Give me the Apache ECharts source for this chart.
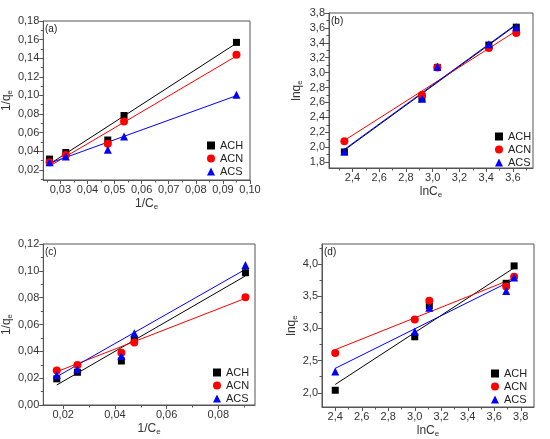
<!DOCTYPE html>
<html>
<head>
<meta charset="utf-8">
<script src="https://cdn.jsdelivr.net/npm/echarts@6/dist/echarts.min.js"></script>
<style>
  html, body { margin: 0; background: #fff; }
  #main { width: 550px; height: 439px; }
</style>
</head>
<body>
<div id="main"></div>
<script>
// (a) 1/qe vs 1/Ce
var achA = [[0.026, 0.0315], [0.032, 0.0386], [0.0475, 0.052], [0.0535, 0.0784], [0.095, 0.157]];
var acnA = [[0.026, 0.028], [0.032, 0.036], [0.0475, 0.048], [0.0535, 0.072], [0.095, 0.1437]];
var acsA = [[0.026, 0.028], [0.032, 0.0343], [0.0475, 0.0415], [0.0535, 0.0558], [0.095, 0.1006]];
var achFitA = [[0.0262, 0.0265], [0.0947, 0.1555]];
var acnFitA = [[0.0262, 0.0243], [0.0947, 0.1418]];
var acsFitA = [[0.0262, 0.0272], [0.0947, 0.0994]];

// (b) lnqe vs lnCe
var achB = [[2.34, 1.935], [2.92, 2.65], [3.035, 3.07], [3.42, 3.37], [3.625, 3.61]];
var acnB = [[2.34, 2.08], [2.92, 2.70], [3.035, 3.07], [3.42, 3.33], [3.625, 3.53]];
var acsB = [[2.34, 1.94], [2.92, 2.65], [3.035, 3.08], [3.42, 3.38], [3.625, 3.61]];
var achFitB = [[2.34, 1.96], [3.625, 3.64]];
var acnFitB = [[2.34, 2.09], [3.625, 3.56]];
var acsFitB = [[2.34, 1.97], [3.625, 3.65]];

// (c) 1/qe vs 1/Ce
var achC = [[0.0175, 0.0195], [0.0255, 0.0244], [0.0425, 0.0328], [0.0475, 0.049], [0.0905, 0.0986]];
var acnC = [[0.0175, 0.0258], [0.0255, 0.0298], [0.0425, 0.039], [0.0475, 0.0465], [0.0905, 0.0803]];
var acsC = [[0.0175, 0.0224], [0.0255, 0.0266], [0.0425, 0.0365], [0.0475, 0.0534], [0.0905, 0.1043]];
var achFitC = [[0.0175, 0.0149], [0.0905, 0.0962]];
var acnFitC = [[0.0175, 0.0248], [0.0905, 0.0795]];
var acsFitC = [[0.0175, 0.0211], [0.0905, 0.1011]];

// (d) lnqe vs lnCe
var achD = [[2.40, 2.04], [3.00, 2.87], [3.11, 3.35], [3.69, 3.70], [3.75, 3.97]];
var acnD = [[2.40, 2.62], [3.00, 3.14], [3.11, 3.43], [3.69, 3.65], [3.75, 3.80]];
var acsD = [[2.40, 2.33], [3.00, 2.95], [3.11, 3.32], [3.69, 3.58], [3.75, 3.79]];
var achFitD = [[2.40, 2.13], [3.75, 3.94]];
var acnFitD = [[2.40, 2.67], [3.75, 3.78]];
var acsFitD = [[2.40, 2.38], [3.75, 3.76]];

// tick values
var xTicksA = [0.03, 0.04, 0.05, 0.06, 0.07, 0.08, 0.09, 0.10];
var xMinorA = [0.025, 0.035, 0.045, 0.055, 0.065, 0.075, 0.085, 0.095];
var yTicksA = [0.02, 0.04, 0.06, 0.08, 0.10, 0.12, 0.14, 0.16, 0.18];
var yMinorA = [0.01, 0.03, 0.05, 0.07, 0.09, 0.11, 0.13, 0.15, 0.17];
var xTicksB = [2.4, 2.6, 2.8, 3.0, 3.2, 3.4, 3.6];
var xMinorB = [2.3, 2.5, 2.7, 2.9, 3.1, 3.3, 3.5, 3.7];
var yTicksB = [1.8, 2.0, 2.2, 2.4, 2.6, 2.8, 3.0, 3.2, 3.4, 3.6, 3.8];
var yMinorB = [1.9, 2.1, 2.3, 2.5, 2.7, 2.9, 3.1, 3.3, 3.5, 3.7];
var xTicksC = [0.02, 0.04, 0.06, 0.08];
var xMinorC = [0.03, 0.05, 0.07, 0.09];
var yTicksC = [0.00, 0.02, 0.04, 0.06, 0.08, 0.10, 0.12];
var yMinorC = [0.01, 0.03, 0.05, 0.07, 0.09, 0.11];
var xTicksD = [2.4, 2.6, 2.8, 3.0, 3.2, 3.4, 3.6, 3.8];
var xMinorD = [2.5, 2.7, 2.9, 3.1, 3.3, 3.5, 3.7];
var yTicksD = [2.0, 2.5, 3.0, 3.5, 4.0];
var yMinorD = [2.25, 2.75, 3.25, 3.75, 4.25];

var names = ['ACH', 'ACN', 'ACS'];
var colors = ['#000000', '#ff0000', '#0000ff'];
var symbols = ['rect', 'circle', 'triangle'];
var symSizes = [7, 8, 8];

var font = 'Liberation Sans, Arial, sans-serif';
var frame = '#555';

var panels = [
  { tag: '(a)', grid: { left: 43, top: 21, width: 207, height: 159 }, xr: [0.0237, 0.1], yr: [0.009, 0.18],
    xt: xTicksA, xm: xMinorA, yt: yTicksA, ym: yMinorA, xd: 2, yd: 2, xn: '1/C', yn: '1/q', yGap: 25,
    pts: [achA, acnA, acsA], fits: [achFitA, acnFitA, acsFitA], leg: [207, 140] },
  { tag: '(b)', grid: { left: 329, top: 13, width: 204, height: 155 }, xr: [2.225, 3.75], yr: [1.72, 3.8],
    xt: xTicksB, xm: xMinorB, yt: yTicksB, ym: yMinorB, xd: 1, yd: 1, xn: 'lnC', yn: 'lnq', yGap: 25,
    pts: [achB, acnB, acsB], fits: [achFitB, acnFitB, acsFitB], leg: [495, 131] },
  { tag: '(c)', grid: { left: 43, top: 244, width: 212, height: 161 }, xr: [0.0123, 0.0942], yr: [0, 0.12],
    xt: xTicksC, xm: xMinorC, yt: yTicksC, ym: yMinorC, xd: 2, yd: 2, xn: '1/C', yn: '1/q', yGap: 26,
    pts: [achC, acnC, acsC], fits: [achFitC, acnFitC, acsFitC], leg: [213, 367] },
  { tag: '(d)', grid: { left: 322, top: 244, width: 212, height: 163 }, xr: [2.3, 3.9], yr: [1.78, 4.31],
    xt: xTicksD, xm: xMinorD, yt: yTicksD, ym: yMinorD, xd: 1, yd: 1, xn: 'lnC', yn: 'lnq', yGap: 22,
    pts: [achD, acnD, acsD], fits: [achFitD, acnFitD, acsFitD], leg: [491, 368] }
];

var grids = [], xAxes = [], yAxes = [], series = [], legends = [], titles = [];

function fmt(d) {
  return function (v) { return v.toFixed(d).replace('.', ','); };
}

var nameStyle = {
  fontFamily: font, fontSize: 12, color: '#333',
  rich: { s: { fontFamily: font, fontSize: 8, color: '#333', padding: [6, 0, 0, 0] } }
};

panels.forEach(function (p, i) {
  grids.push(Object.assign({ show: true, borderColor: frame, borderWidth: 1, containLabel: false }, p.grid));

  // main axes with labels and major ticks
  xAxes.push({
    type: 'value', gridIndex: i, position: 'bottom', min: p.xr[0], max: p.xr[1],
    name: p.xn + '{s|e}', nameLocation: 'middle', nameGap: 17, nameTextStyle: nameStyle,
    axisLine: { lineStyle: { color: frame } },
    axisTick: { inside: false, length: 4, customValues: p.xt, lineStyle: { color: frame } },
    axisLabel: { customValues: p.xt, formatter: fmt(p.xd), fontFamily: font, fontSize: 11, color: '#333', margin: 4 },
    splitLine: { show: false }
  });
  // minor ticks only
  xAxes.push({
    type: 'value', gridIndex: i, position: 'bottom', offset: 0, min: p.xr[0], max: p.xr[1],
    axisLine: { show: false },
    axisTick: { inside: false, length: 2.5, customValues: p.xm, lineStyle: { color: frame } },
    axisLabel: { show: false }, splitLine: { show: false }
  });
  yAxes.push({
    type: 'value', gridIndex: i, position: 'left', min: p.yr[0], max: p.yr[1],
    name: p.yn + '{s|e}', nameLocation: 'middle', nameGap: p.yGap, nameTextStyle: nameStyle,
    axisLine: { show: true, lineStyle: { color: frame } },
    axisTick: { show: true, inside: false, length: 4, customValues: p.yt, lineStyle: { color: frame } },
    axisLabel: { customValues: p.yt, formatter: fmt(p.yd), fontFamily: font, fontSize: 11, color: '#333', margin: 4 },
    splitLine: { show: false }
  });
  yAxes.push({
    type: 'value', gridIndex: i, position: 'left', offset: 0, min: p.yr[0], max: p.yr[1],
    axisLine: { show: false },
    axisTick: { show: true, inside: false, length: 2.5, customValues: p.ym, lineStyle: { color: frame } },
    axisLabel: { show: false }, splitLine: { show: false }
  });

  // fitted lines first, markers on top
  p.fits.forEach(function (f, k) {
    series.push({
      name: names[k] + ' fit', type: 'line', xAxisIndex: 2 * i, yAxisIndex: 2 * i,
      data: f, showSymbol: false, silent: true, z: 2,
      lineStyle: { color: colors[k], width: 1 }
    });
  });
  p.pts.forEach(function (d, k) {
    series.push({
      name: names[k], type: 'scatter', xAxisIndex: 2 * i, yAxisIndex: 2 * i,
      data: d, symbol: symbols[k], symbolSize: symSizes[k], z: 3 + k,
      itemStyle: { color: colors[k], opacity: 1 }
    });
  });

  legends.push({
    data: names, orient: 'vertical', left: p.leg[0], top: p.leg[1],
    itemWidth: 8, itemHeight: 8, itemGap: 2, padding: 0,
    textStyle: { fontFamily: font, fontSize: 11, color: '#222', lineHeight: 10 },
    selectedMode: false
  });
  titles.push({
    text: p.tag, left: p.grid.left + 2, top: p.grid.top + 3, padding: 0,
    textStyle: { fontFamily: font, fontSize: 10, fontWeight: 'normal', color: '#222' }
  });
});

var myChart = echarts.init(document.getElementById('main'), null, { renderer: 'canvas' });
myChart.setOption({
  animation: false,
  backgroundColor: '#fff',
  title: titles,
  legend: legends,
  grid: grids,
  xAxis: xAxes,
  yAxis: yAxes,
  series: series
});
</script>
</body>
</html>
